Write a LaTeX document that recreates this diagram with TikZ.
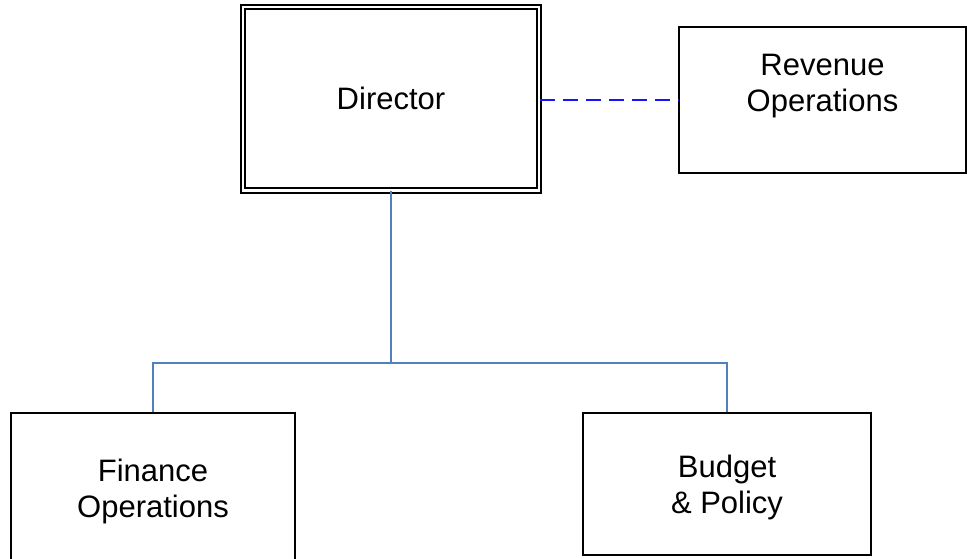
\documentclass[tikz,border=0pt]{standalone}
\usepackage{fontspec}
\setmainfont{Liberation Sans}
\definecolor{linkblue}{RGB}{79,129,189}
\definecolor{dashblue}{RGB}{20,20,255}
\begin{document}
\begin{tikzpicture}[x=1pt, y=-1pt]

% Page size of the chart
\useasboundingbox (0,0) rectangle (967,559);

% Styles for the boxes and the links
\tikzstyle{unit} = [rectangle, draw=black, line width=1.5pt, inner sep=0pt, align=center, font=\fontsize{31}{36}\selectfont]
\tikzstyle{head} = [unit, double, line width=2pt, double distance=2.2pt]
\tikzstyle{caption} = [align=center, font=\fontsize{31}{36}\selectfont]
\tikzstyle{link} = [draw=linkblue, line width=1.5pt]
\tikzstyle{aside} = [draw=dashblue, line width=1.5pt, dash pattern=on 15pt off 8pt]

\node[head, minimum width=296pt, minimum height=183.5pt] (director) at (391,98.75) {Director};
\node[unit, minimum width=287pt, minimum height=146pt,
      label={[name=revenuetext, caption, yshift=14pt]center:{Revenue\\Operations}}]
      (revenue) at (822.5,100) {};
\node[unit, minimum width=284pt, minimum height=156pt] (finance) at (153,491) {Finance\\Operations};
\node[unit, minimum width=288pt, minimum height=142pt,
      label={[name=budgettext, caption, yshift=-3pt]center:{Budget\\\& Policy}}]
      (budget) at (727,484) {};

% Reporting lines
\coordinate (bus) at (391,363);
\draw[link] (director.south) -- (bus) -| (finance.north);
\draw[link] (bus) -| (budget.north);
\draw[aside] (revenue.west -| director.east) -- (revenue.west);

\end{tikzpicture}
\end{document}
